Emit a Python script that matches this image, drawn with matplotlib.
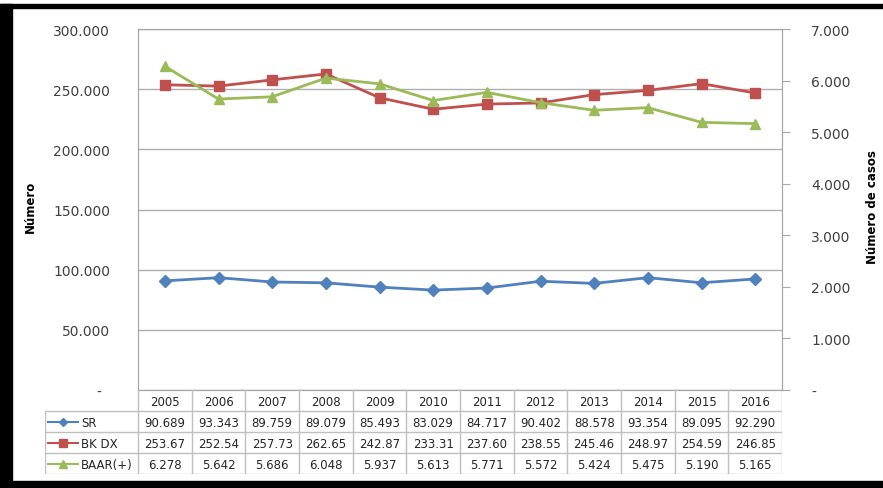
import numpy as np
import matplotlib.pyplot as plt
from matplotlib.patches import Rectangle
from matplotlib.ticker import FuncFormatter, MultipleLocator

anos = ['2005', '2006', '2007', '2008', '2009', '2010',
        '2011', '2012', '2013', '2014', '2015', '2016']
sr = [90689, 93343, 89759, 89079, 85493, 83029,
      84717, 90402, 88578, 93354, 89095, 92290]
bk_dx = [253670, 252540, 257730, 262650, 242870, 233310,
         237600, 238550, 245460, 248970, 254590, 246850]
baar = [6278, 5642, 5686, 6048, 5937, 5613,
        5771, 5572, 5424, 5475, 5190, 5165]

cor_sr = '#4F81BD'
cor_bk = '#C0504D'
cor_baar = '#9BBB59'
cinza = '#404040'

W, H = 883, 489
fig = plt.figure(figsize=(W / 100, H / 100), dpi=100)
fig.patch.set_facecolor('white')

# area do grafico (em pixels: x 138-782, y 30-391)
ax = fig.add_axes([138 / W, (H - 391) / H, 644 / W, 361 / H])
x = np.arange(len(anos))

ax.plot(x, sr, color=cor_sr, lw=2, marker='D', ms=6.5, zorder=3)
ax.plot(x, bk_dx, color=cor_bk, lw=2, marker='s', ms=7.5, zorder=3)
ax.set_xlim(-0.5, len(anos) - 0.5)
ax.set_ylim(0, 300000)
ax.yaxis.set_major_locator(MultipleLocator(50000))


def fmt_milhar(v, pos, pad=''):
    if v == 0:
        return '-' + pad
    return f'{v:,.0f}'.replace(',', '.')


ax.yaxis.set_major_formatter(FuncFormatter(lambda v, p: fmt_milhar(v, p, '  ')))
ax.tick_params(axis='y', length=0, pad=20, labelsize=10, labelcolor=cinza)
ax.set_xticks([])
ax.grid(axis='y', color='#AFAFAF', lw=1)
ax.set_axisbelow(True)
for lado in ['left', 'top', 'right', 'bottom']:
    ax.spines[lado].set_color('#A6A6A6')
ax.set_ylabel('Número', fontsize=8.5, fontweight='bold', color='black')
ax.yaxis.set_label_coords(-101 / 644, 0.51)

ax2 = ax.twinx()
ax2.plot(x, baar, color=cor_baar, lw=2, marker='^', ms=7.5, zorder=3)
ax2.set_ylim(0, 7000)
ax2.yaxis.set_major_locator(MultipleLocator(1000))
ax2.yaxis.set_major_formatter(FuncFormatter(fmt_milhar))
ax2.tick_params(axis='y', length=6, color='#A6A6A6', pad=15,
                labelsize=10, labelcolor=cinza)
for lado in ['left', 'top', 'right', 'bottom']:
    ax2.spines[lado].set_color('#A6A6A6')
ax2.set_ylabel('Número de casos', fontsize=8.5, fontweight='bold',
               color='black', rotation=90)
ax2.yaxis.set_label_coords(1 + 84 / 644, 0.51)

# tabela de dados abaixo do grafico
colw = 644 / len(anos)
tab = fig.add_axes([45 / W, (H - 475) / H, (782 - 45) / W, 84 / H])
esq = -0.5 - 93 / colw
tab.set_xlim(esq, len(anos) - 0.5)
tab.set_ylim(4, 0)
tab.axis('off')


def tx(px):
    return -0.5 + (px - 138) / colw


linha = dict(color='#BFBFBF', lw=1)
for i in range(len(anos) + 1):
    tab.plot([i - 0.5, i - 0.5], [0, 4], **linha)
tab.plot([esq, esq], [1, 4], **linha)
for r in range(1, 5):
    tab.plot([esq, len(anos) - 0.5], [r, r], **linha)

for i, a in enumerate(anos):
    tab.text(i, 0.55, a, ha='center', va='center', fontsize=8.5, color='#262626')

series = [
    ('SR', sr, cor_sr, 'D', 4.5, [fmt_milhar(v, None) for v in sr]),
    ('BK DX', bk_dx, cor_bk, 's', 6, [f'{v / 1000:.2f}' for v in bk_dx]),
    ('BAAR(+)', baar, cor_baar, '^', 5.5, [fmt_milhar(v, None) for v in baar]),
]
for r, (nome, vals, cor, mk, ms, textos) in enumerate(series, start=1):
    yc = r + 0.55
    tab.plot([tx(48), tx(78)], [yc - 0.05, yc - 0.05], color=cor, lw=1.5)
    tab.plot([tx(63)], [yc - 0.05], color=cor, marker=mk, ms=ms)
    tab.text(tx(81), yc, nome, ha='left', va='center', fontsize=8.5, color='#262626')
    for i, t in enumerate(textos):
        tab.text(i, yc, t, ha='center', va='center', fontsize=8.5, color='#262626')

# moldura preta
for (x0, y0, w, h) in [(0, 5, 12, H - 5), (0, 5, W, 4), (0, 482, W, 7)]:
    fig.patches.append(Rectangle((x0 / W, 1 - (y0 + h) / H), w / W, h / H,
                                 transform=fig.transFigure, color='black',
                                 zorder=10))

fig.savefig('out.png', dpi=100)
